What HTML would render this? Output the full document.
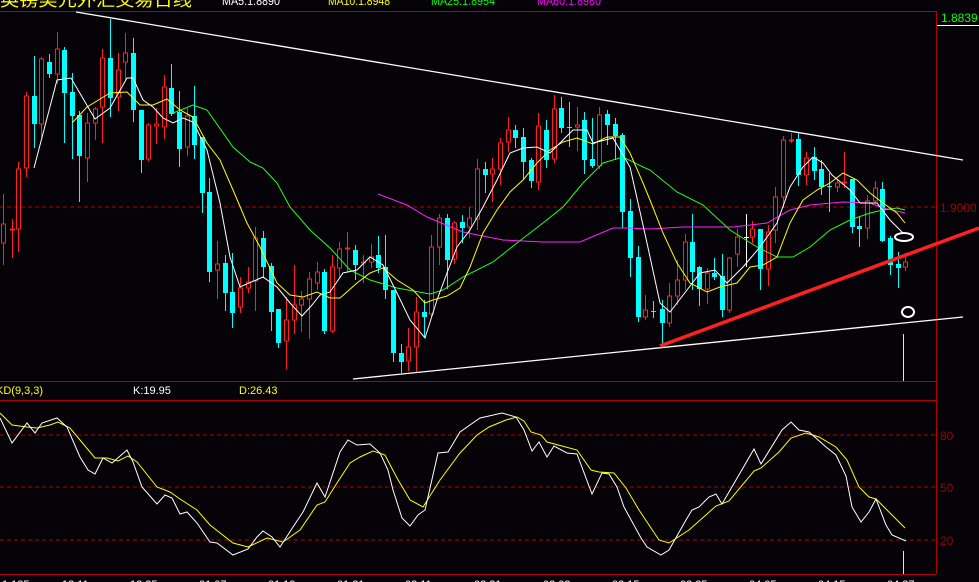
<!DOCTYPE html>
<html><head><meta charset="utf-8">
<style>
html,body{margin:0;padding:0;background:#050308;width:979px;height:582px;overflow:hidden}
svg{display:block}
text{font-family:"Liberation Sans","Noto Sans CJK SC",sans-serif}
</style></head><body>
<svg id="s" width="979" height="582" viewBox="0 0 979 582" xmlns="http://www.w3.org/2000/svg">
<rect width="979" height="582" fill="#050308"/>
<text x="0" y="6" font-size="17" fill="#ffff00" textLength="192" lengthAdjust="spacingAndGlyphs">英镑美元外汇交易日线</text>
<text x="222" y="5" font-size="12" fill="#ffffff" textLength="58" lengthAdjust="spacingAndGlyphs">MA5:1.8890</text>
<text x="328" y="5" font-size="12" fill="#ffff00" textLength="62" lengthAdjust="spacingAndGlyphs">MA10:1.8948</text>
<text x="431" y="5" font-size="12" fill="#00ff00" textLength="64" lengthAdjust="spacingAndGlyphs">MA25:1.8954</text>
<text x="537" y="5" font-size="12" fill="#ff00ff" textLength="64" lengthAdjust="spacingAndGlyphs">MA60:1.8980</text>
<line x1="0" y1="11.5" x2="936" y2="11.5" stroke="#b00000"/>
<rect x="937" y="9" width="42" height="16" fill="#050308"/>
<line x1="937" y1="25.5" x2="979" y2="25.5" stroke="#fff"/>
<text x="941" y="22" font-size="12" fill="#00ff00">1.8839</text>
<line x1="936.5" y1="11" x2="936.5" y2="574" stroke="#b00000"/>
<line x1="0" y1="207" x2="936" y2="207" stroke="#b00000" stroke-dasharray="4,3"/>
<text x="940" y="212" font-size="12" fill="#a00000">1.9000</text>
<g id="c"></g>
<g id="ma" fill="none" stroke-width="1"></g>
<line x1="76" y1="12" x2="963" y2="160" stroke="#fff" stroke-width="1.3"/>
<line x1="353" y1="379" x2="963" y2="317" stroke="#fff" stroke-width="1.3"/>
<line x1="660" y1="346" x2="979" y2="228" stroke="#ff2020" stroke-width="3.5"/>
<ellipse cx="904" cy="237" rx="9" ry="4" fill="none" stroke="#fff" stroke-width="2"/>
<ellipse cx="908" cy="312" rx="6" ry="5" fill="none" stroke="#fff" stroke-width="2"/>
<line x1="903.5" y1="334" x2="903.5" y2="381" stroke="#ffff00"/>
<line x1="0" y1="381.5" x2="936" y2="381.5" stroke="#b00000"/>
<line x1="0" y1="400.5" x2="936" y2="400.5" stroke="#b00000"/>
<text x="-4" y="394" font-size="11" fill="#ffff00">KD(9,3,3)</text>
<text x="133" y="394" font-size="11" fill="#ffffff">K:19.95</text>
<text x="239" y="394" font-size="11" fill="#ffff00">D:26.43</text>
<g stroke="#b00000" stroke-dasharray="4,3">
<line x1="0" y1="435" x2="936" y2="435"/><line x1="0" y1="487" x2="936" y2="487"/><line x1="0" y1="540" x2="936" y2="540"/></g>
<text x="940" y="440" font-size="12" fill="#a00000">80</text>
<text x="940" y="492" font-size="12" fill="#a00000">50</text>
<text x="940" y="545" font-size="12" fill="#a00000">20</text>
<line x1="0" y1="574.5" x2="936" y2="574.5" stroke="#b00000"/>
<line x1="903.5" y1="551" x2="903.5" y2="574" stroke="#ffff00"/>
<g font-size="11" fill="#ffffff">
<text x="2" y="588">1.185</text><text x="62" y="588">12.11</text><text x="130" y="588">12.25</text><text x="199" y="588">01.07</text><text x="268" y="588">01.19</text><text x="337" y="588">01.31</text><text x="405" y="588">02.11</text><text x="474" y="588">02.21</text><text x="543" y="588">03.03</text><text x="612" y="588">03.15</text><text x="680" y="588">03.25</text><text x="749" y="588">04.05</text><text x="818" y="588">04.15</text><text x="887" y="588">04.27</text></g>
<g id="kd" fill="none"></g>
</svg>
<script>
var C=[[3,224,243,194,265,'r'],[12,229,229,219,258,'r'],[18,169,229,162,252,'r'],[26,96,168,92,177,'r'],[34,96,124,56,148,'c'],[41,59,124,57,137,'r'],[49,62,74,54,78,'c'],[57,49,74,32,84,'r'],[64,50,93,47,143,'c'],[72,92,116,73,159,'c'],[79,115,156,111,202,'c'],[87,123,158,113,182,'r'],[95,109,123,107,140,'r'],[102,58,107,49,143,'r'],[110,58,98,19,117,'c'],[118,70,97,53,111,'r'],[125,53,62,33,80,'r'],[133,53,110,38,122,'c'],[141,110,160,110,173,'c'],[148,125,159,123,161,'r'],[156,124,126,108,144,'r'],[164,87,127,75,139,'r'],[171,88,114,64,116,'c'],[179,112,149,91,167,'c'],[187,116,147,108,156,'r'],[194,116,145,86,159,'c'],[202,137,193,137,213,'c'],[209,192,272,178,282,'c'],[217,264,270,241,299,'r'],[225,263,293,255,311,'c'],[232,292,313,253,328,'c'],[240,288,307,277,313,'r'],[248,282,288,267,293,'r'],[255,238,281,227,311,'r'],[263,238,267,231,278,'c'],[271,266,312,263,331,'c'],[278,309,343,309,348,'c'],[286,320,341,297,369,'r'],[294,305,320,265,334,'r'],[301,299,305,291,332,'r'],[309,279,299,272,339,'r'],[317,272,283,262,290,'r'],[324,272,331,269,334,'c'],[332,267,331,255,333,'r'],[339,249,268,242,278,'r'],[347,248,249,232,272,'r'],[355,250,265,245,280,'c'],[363,262,263,255,283,'r'],[371,257,262,244,268,'r'],[378,255,268,236,273,'c'],[385,267,290,235,299,'c'],[393,290,353,290,362,'c'],[401,353,362,344,373,'c'],[408,347,361,328,371,'r'],[416,312,347,297,373,'r'],[424,312,317,300,338,'c'],[431,247,314,235,317,'r'],[439,218,247,214,265,'r'],[447,218,260,214,289,'c'],[454,223,259,221,264,'r'],[462,222,228,215,243,'c'],[469,218,227,207,238,'r'],[477,169,219,159,230,'r'],[485,169,175,162,193,'c'],[492,169,174,158,202,'r'],[500,143,169,138,185,'r'],[508,130,142,117,152,'r'],[515,130,138,125,148,'c'],[523,137,162,128,180,'c'],[531,160,181,158,188,'c'],[538,126,182,113,190,'r'],[546,130,160,120,168,'c'],[554,109,159,95,163,'r'],[561,108,128,97,133,'c'],[569,127,127,102,147,'c'],[577,125,127,107,151,'r'],[584,120,160,112,174,'c'],[592,159,166,118,168,'c'],[599,115,166,107,169,'r'],[607,114,125,110,145,'c'],[615,124,136,118,160,'c'],[622,135,212,133,228,'c'],[630,211,258,199,277,'c'],[638,257,317,246,322,'c'],[645,310,317,295,320,'r'],[653,311,311,301,318,'c'],[662,309,323,300,347,'c'],[669,296,323,283,327,'r'],[677,280,296,260,305,'r'],[685,242,280,234,290,'r'],[692,242,272,214,290,'c'],[699,267,289,266,306,'c'],[707,273,289,268,304,'r'],[714,273,277,258,280,'c'],[722,276,310,254,317,'c'],[729,258,310,257,313,'r'],[737,237,254,229,267,'r'],[746,237,237,214,267,'w'],[752,229,237,221,243,'r'],[760,229,269,229,290,'c'],[768,232,269,225,286,'r'],[775,197,230,187,243,'r'],[783,140,197,136,208,'r'],[791,140,141,133,143,'r'],[798,139,175,133,186,'c'],[806,158,175,152,185,'r'],[814,157,171,147,180,'c'],[821,169,187,160,195,'c'],[829,186,187,173,212,'c'],[837,183,187,180,192,'r'],[844,182,183,152,188,'r'],[852,179,227,179,233,'c'],[859,226,229,217,247,'c'],[867,201,228,195,239,'r'],[875,188,201,181,203,'r'],[882,189,241,182,242,'c'],[890,238,265,236,275,'c'],[898,264,268,252,288,'c'],[905,262,267,253,271,'r']];
var g=document.getElementById('c'),h='';
C.forEach(function(k){var x=k[0],col=k[5]=='r'?'#ff2020':(k[5]=='c'?'#00ffff':'#ffffff');
h+='<line x1="'+(x+.5)+'" y1="'+k[3]+'" x2="'+(x+.5)+'" y2="'+k[4]+'" stroke="'+col+'"/>';
var bh=Math.max(k[2]-k[1],1);
if(k[5]=='r')h+='<rect x="'+(x-1.5)+'" y="'+k[1]+'" width="4" height="'+bh+'" fill="#050308" stroke="'+col+'"/>';
else h+='<rect x="'+(x-2)+'" y="'+k[1]+'" width="5" height="'+bh+'" fill="'+col+'"/>';});
g.innerHTML=h;
function pl(a,c){return '<polyline stroke="'+c+'" points="'+a.join(' ')+'"/>';}
var m5=[34,168,57,80,71,78,95,119,110,108,127,78,133,78,143,100,153,107,163,118,173,123,183,118,193,122,207,150,220,203,230,257,240,287,263,277,277,287,290,303,302,316,312,305,320,295,330,292,343,273,357,270,370,257,383,265,397,293,410,320,425,338,437,300,447,273,457,247,470,230,483,207,497,180,510,153,523,148,537,147,550,153,563,140,573,130,587,130,593,143,613,138,630,167,647,243,660,303,670,312,687,290,700,273,715,270,727,283,743,267,760,247,777,223,790,187,803,167,813,157,823,163,832,175,850,190,860,203,877,203,890,220,903,233];
var m10=[72,123,87,107,110,93,127,92,140,105,153,105,167,99,180,110,193,117,207,143,220,160,233,190,247,223,260,247,277,283,290,295,303,297,317,292,330,298,340,298,357,283,370,273,383,268,397,280,413,290,425,303,433,300,447,296,460,288,470,267,483,233,497,210,510,192,523,180,537,163,550,150,563,142,577,138,593,144,607,137,620,137,630,153,643,183,650,200,663,233,677,263,690,283,707,292,720,287,737,283,750,267,763,265,777,257,790,223,803,200,817,190,830,183,843,173,857,180,870,193,883,203,897,213,905,223];
var m20=[173,113,193,105,207,110,233,147,250,162,263,168,277,183,290,207,310,230,330,248,350,270,370,280,397,288,430,294,443,290,463,277,493,262,517,243,543,223,563,207,583,183,603,163,623,157,643,167,650,170,677,192,703,205,730,230,757,247,777,257,793,257,810,247,830,230,850,220,870,213,883,210,897,208,905,210];
var m60=[378,194,407,205,427,217,463,232,503,240,543,242,580,242,613,228,627,228,650,229,683,227,733,227,767,223,790,210,810,205,843,202,870,203,883,208,905,213];
document.getElementById('ma').innerHTML=pl(m60,'#ff20ff')+pl(m20,'#20ff20')+pl(m10,'#ffff00')+pl(m5,'#ffffff');
var K=[0,418,12,443,27,423,35,433,42,423,57,418,67,427,80,457,88,470,95,474,103,458,112,463,127,450,133,462,142,487,157,504,165,495,172,498,180,514,187,512,197,523,210,542,217,543,233,555,248,549,257,537,263,531,272,537,280,547,293,527,303,512,317,483,325,497,340,452,348,440,357,445,370,444,380,453,388,470,393,490,402,518,410,526,418,515,425,510,438,453,448,452,460,432,480,418,489,416,502,413,516,417,524,430,532,451,539,442,547,457,554,446,567,453,577,454,592,494,602,473,609,474,617,487,624,507,641,538,647,547,661,555,669,550,686,520,692,510,699,507,709,497,716,494,722,504,736,480,754,449,761,464,782,430,791,422,799,430,809,432,826,447,836,455,846,476,852,507,861,522,869,512,876,499,886,525,892,535,906,541];
var D=[0,413,12,425,27,427,37,428,50,425,58,422,70,428,80,440,95,458,107,458,118,461,128,456,137,462,157,487,170,492,180,499,197,510,210,525,233,543,248,547,267,538,283,542,300,530,317,505,325,502,337,483,350,463,360,457,373,451,385,455,397,478,410,500,423,507,440,480,460,453,477,435,489,427,506,420,517,417,524,421,531,432,541,435,547,442,562,446,577,450,591,470,599,472,614,473,626,488,639,510,659,540,669,543,689,530,716,506,729,501,754,471,761,468,779,452,791,438,806,433,819,437,836,447,847,460,859,487,869,497,876,499,889,512,905,528];
document.getElementById('kd').innerHTML=pl(D,'#ffff00')+pl(K,'#ffffff');
</script>
</body></html>
